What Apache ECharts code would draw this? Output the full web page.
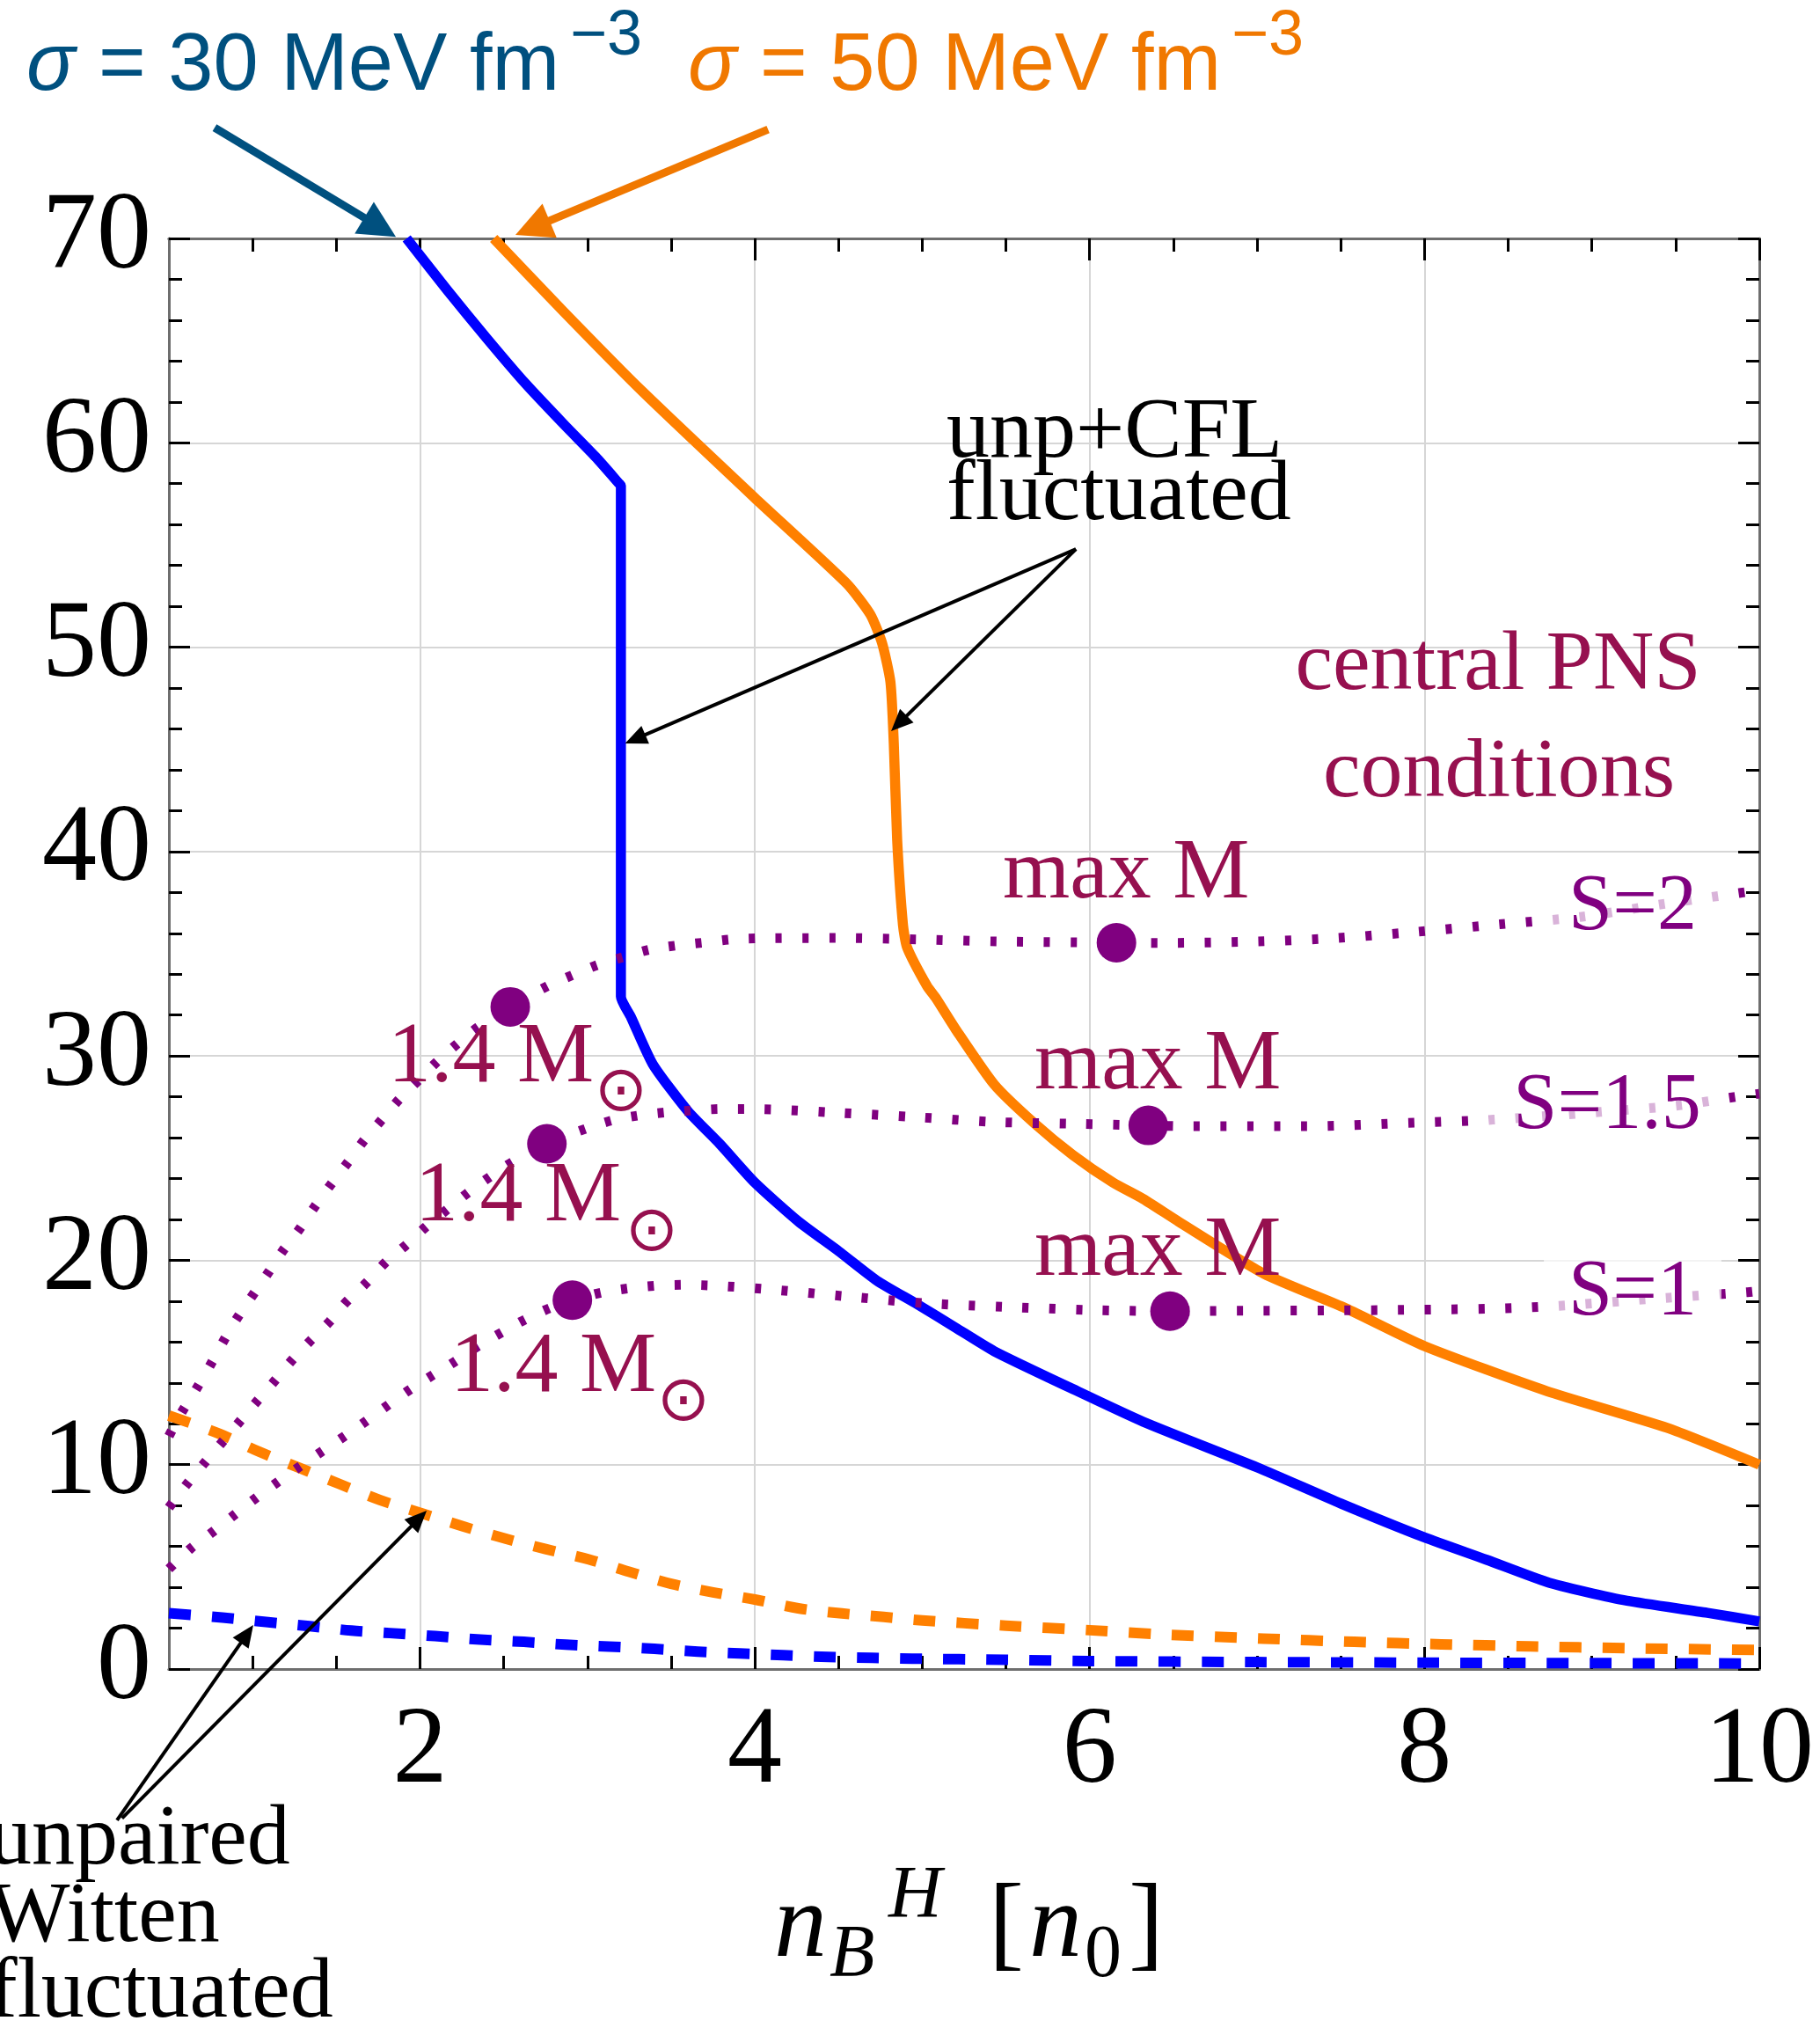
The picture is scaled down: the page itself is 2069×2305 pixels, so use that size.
<!DOCTYPE html>
<html><head><meta charset="utf-8">
<script src="https://cdn.jsdelivr.net/npm/echarts@6/dist/echarts.min.js"></script>
<style>html,body{margin:0;padding:0;background:#fff}#c{width:2069px;height:2305px}</style>
</head><body><div id="c"></div>
<script>
// ---------------- data ----------------
const xMajorTicks = [2, 4, 6, 8, 10];
const xMinorTicks = [1, 1.5, 2.5, 3, 3.5, 4.5, 5, 5.5, 6.5, 7, 7.5, 8.5, 9, 9.5];

// unp+CFL fluctuated, sigma = 30
const blueSolid = [[1.92,70],[2.16,67.5],[2.4,65.1],[2.63,62.9],[2.86,60.9],[3.05,59.3],[3.19,58.0],[3.2,57.9],
  [3.2,32.9],[3.26,31.9],[3.39,29.6],[3.6,27.3],[3.79,25.7],[4.0,23.8],[4.26,21.9],[4.5,20.45],[4.73,19.0],
  [4.97,17.85],[5.2,16.7],[5.43,15.55],[5.9,13.7],[6.32,12.1],[7.0,9.87],[7.5,8.1],[8.0,6.44],[8.37,5.35],
  [8.73,4.26],[8.97,3.76],[9.21,3.34],[9.69,2.75],[10.0,2.33]];
// unp+CFL fluctuated, sigma = 50
const orangeSolid = [[2.44,70],[2.86,66.4],[3.33,62.5],[4.0,57.3],[4.55,53.1],[4.69,51.6],[4.76,50.2],
  [4.81,48.3],[4.83,45.3],[4.85,40.6],[4.885,36.4],[4.91,35.3],[5.03,33.4],[5.08,32.85],[5.2,31.3],[5.43,28.6],
  [5.67,26.7],[5.9,25.15],[6.14,23.8],[6.32,23.0],[6.53,21.9],[7.04,19.35],[7.53,17.65],[8.0,15.8],[8.73,13.6],
  [9.45,11.8],[10.0,10.0]];
// unpaired Witten fluctuated, sigma = 50
const orangeDashed = [[0.5,12.4],[0.805,11.5],[1.04,10.63],[1.28,9.84],[1.52,9.05],[1.76,8.27],[2.01,7.62],
  [2.26,6.97],[2.51,6.38],[2.75,5.87],[3.01,5.36],[3.25,4.76],[3.5,4.17],[3.75,3.75],[4.0,3.4],[4.26,2.97],
  [4.52,2.72],[4.77,2.55],[5.0,2.38],[5.5,2.12],[6.0,1.9],[6.39,1.71],[7.04,1.49],[7.58,1.33],[8.1,1.21],
  [8.63,1.11],[9.21,1.02],[10.0,0.93]];
// unpaired Witten fluctuated, sigma = 30
const blueDashed = [[0.5,2.73],[0.82,2.52],[1.08,2.3],[1.34,2.1],[1.59,1.88],[1.82,1.76],[2.09,1.61],[2.36,1.44],
  [2.62,1.33],[2.87,1.19],[3.13,1.1],[3.4,0.99],[3.66,0.85],[3.91,0.76],[4.17,0.68],[4.44,0.59],[4.7,0.55],
  [4.94,0.51],[5.5,0.45],[6.0,0.39],[7.0,0.34],[8.0,0.31],[9.0,0.29],[10.0,0.27]];
// central PNS conditions
const s2 = [[0.5,11.4],[0.577,12.57],[0.665,13.72],[0.752,14.94],[0.83,16.1],[0.91,17.2],[1.094,19.4],[1.18,20.46],
  [1.278,21.5],[1.369,22.6],[1.467,23.7],[1.567,24.77],[1.663,25.84],[1.768,26.85],[1.873,27.85],[1.987,28.78],
  [2.10,29.7],[2.224,30.6],[2.346,31.4],[2.539,32.4],[2.758,33.4],[2.91,33.95],[3.06,34.45],[3.2,34.8],[3.37,35.2],
  [3.53,35.4],[3.70,35.55],[3.86,35.7],[4.03,35.76],[4.5,35.77],[4.97,35.7],[5.46,35.6],[6.16,35.54],[6.44,35.53],
  [7.0,35.6],[7.48,35.77],[7.95,36.07],[8.45,36.44],[8.93,36.8],[9.40,37.4],[9.88,37.97],[10,38.1]];
const s15 = [[0.5,7.9],[0.603,9.0],[0.709,10.05],[0.814,11.06],[0.919,12.07],[1.024,13.08],[1.13,14.08],[1.234,15.1],
  [1.347,16.08],[1.46,17.0],[1.558,17.95],[1.68,18.9],[1.794,19.9],[1.917,20.75],[2.03,21.6],[2.16,22.47],
  [2.285,23.3],[2.42,24.1],[2.55,24.8],[2.758,25.7],[2.994,26.45],[3.15,26.85],[3.3,27.08],[3.46,27.23],
  [3.63,27.33],[3.8,27.4],[3.97,27.4],[4.47,27.23],[4.97,27.0],[5.43,26.77],[5.9,26.68],[6.35,26.6],[6.6,26.56],
  [7.29,26.56],[7.94,26.73],[8.41,26.88],[9.05,27.26],[9.53,27.59],[9.86,28.0],[10,28.15]];
const s1 = [[0.5,4.9],[0.63,5.9],[0.76,6.7],[0.892,7.55],[1.015,8.34],[1.146,9.13],[1.28,9.9],[1.41,10.63],
  [1.55,11.4],[1.672,12.1],[1.812,12.93],[1.934,13.64],[2.08,14.4],[2.2,15.0],[2.346,15.8],[2.495,16.5],
  [2.627,17.1],[2.775,17.66],[2.91,18.05],[3.09,18.43],[3.25,18.63],[3.42,18.76],[3.57,18.8],[3.73,18.77],
  [4.05,18.6],[4.54,18.24],[5.02,17.9],[5.5,17.72],[6.0,17.57],[6.48,17.51],[6.6,17.52],[7.84,17.57],
  [8.64,17.7],[9.44,18.16],[9.93,18.44],[10,18.5]];
// 1.4 Msun and max M points
const starPoints = [[2.539,32.4],[6.16,35.54],[2.758,25.7],[6.35,26.6],[2.91,18.05],[6.48,17.51]];

// annotation arrows (data coordinates: [from, to])
const arrowsTop = [
  {from:[0.773,75.42], to:[1.856,70.08], color:'#00507F'},
  {from:[4.079,75.33], to:[2.570,70.17], color:'#F07800'}
];
const arrowsBlack = [
  {from:[5.918,54.80], to:[3.225,45.29]},
  {from:[5.918,54.80], to:[4.814,45.89]},
  {from:[0.19,-7.40], to:[1.004,2.15]},
  {from:[0.22,-7.30], to:[2.040,7.75]}
];

// ---------------- chart ----------------
const chart = echarts.init(document.getElementById('c'), null, {renderer:'canvas'});
const axisLineStyle = {color:'#6e6e6e', width:3};
const tickStyle = {color:'#000', width:3};
const gridLine = {color:'#d6d6d6', width:2};
const serif = 'Liberation Serif';

function xAx(pos, major, labels) {
  return {
    type:'value', min:0.5, max:10, position:pos,
    axisLine:{show:true, onZero:false, lineStyle:axisLineStyle},
    axisTick:{show:true, inside:true, length: major ? 25 : 15, lineStyle:tickStyle,
              customValues: major ? xMajorTicks : xMinorTicks},
    axisLabel: labels ? {show:true, customValues:xMajorTicks, margin:33, fontFamily:serif, fontSize:124, color:'#000'} : {show:false},
    splitLine: (major && labels) ? {show:true, lineStyle:gridLine} : {show:false}
  };
}
function yAx(pos, labels) {
  return {
    type:'value', min:0, max:70, interval:10, position:pos,
    axisLine:{show:true, onZero:false, lineStyle:axisLineStyle},
    axisTick:{show:true, inside:true, length:24, lineStyle:tickStyle},
    minorTick:{show:true, splitNumber:5, length:15, lineStyle:tickStyle},
    axisLabel: labels ? {show:true, margin:20, fontFamily:serif, fontSize:124, color:'#000', showMinLabel:true, showMaxLabel:true} : {show:false},
    splitLine: labels ? {show:true, lineStyle:gridLine} : {show:false}
  };
}

function lineSeries(name, data, color, width, type, z, smooth, cap) {
  return {name, type:'line', data, xAxisIndex:0, yAxisIndex:0, showSymbol:false, symbol:'none',
    smooth: smooth, clip:true, z, lineStyle:{color, width, type, cap: cap || 'butt', join:'round'}, silent:true};
}

const option = {
  animation:false,
  backgroundColor:'#ffffff',
  grid:{left:192, right:69, top:271, bottom:408, containLabel:false},
  xAxis:[xAx('bottom', true, true), xAx('bottom', false, false), xAx('top', true, false), xAx('top', false, false)],
  yAxis:[yAx('left', true), yAx('right', false)],
  series:[
    lineSeries('unp+CFL σ=30', blueSolid, '#0000FF', 11.5, 'solid', 2, 0.2, 'butt'),
    lineSeries('unp+CFL σ=50', orangeSolid, '#FF8000', 11.5, 'solid', 2, 0.2, 'butt'),
    lineSeries('Witten σ=50', orangeDashed, '#FF8000', 12, [25, 24], 2, 0.3),
    lineSeries('Witten σ=30', blueDashed, '#0000FF', 12, [25, 24], 2, 0.3),
    lineSeries('S=2', s2, '#800080', 11, [7, 23.5], 3, 0.3),
    lineSeries('S=1.5', s15, '#800080', 11, [7, 23.5], 3, 0.3),
    lineSeries('S=1', s1, '#800080', 11, [7, 23.5], 3, 0.3),
    {type:'scatter', data:starPoints, symbol:'circle', symbolSize:45, itemStyle:{color:'#800080', opacity:1}, z:4, silent:true}
  ]
};
chart.setOption(option);

// ---------------- annotations ----------------
const toPx = p => chart.convertToPixel({gridIndex:0}, p);
const gfx = [];
function arrow(p0, p1, color, w, headLen, headW) {
  const dx = p1[0]-p0[0], dy = p1[1]-p0[1], L = Math.hypot(dx, dy), ux = dx/L, uy = dy/L;
  const bx = p1[0]-ux*headLen, by = p1[1]-uy*headLen, nx = -uy, ny = ux;
  gfx.push({type:'line', z:60, shape:{x1:p0[0], y1:p0[1], x2:bx+ux*2, y2:by+uy*2}, style:{stroke:color, lineWidth:w}});
  gfx.push({type:'polygon', z:61, shape:{points:[[p1[0],p1[1]],[bx+nx*headW/2, by+ny*headW/2],[bx-nx*headW/2, by-ny*headW/2]]}, style:{fill:color}});
}
arrowsTop.forEach(a => arrow(toPx(a.from), toPx(a.to), a.color, 9, 42, 42));
arrowsBlack.forEach(a => arrow(toPx(a.from), toPx(a.to), '#000', 4, 25, 22));

const K = 0.34; // alphabetic baseline -> middle offset (fraction of font size)
function txt(text, x, base, size, color, family, opts) {
  opts = opts || {};
  const st = {text, x, y: base - K*size, fill:color, fontSize:size, fontFamily:family,
    fontStyle: opts.italic ? 'italic' : 'normal', align: opts.align || 'left', verticalAlign:'middle'};
  if (opts.bg) { st.backgroundColor = opts.bg; st.padding = [0, 28]; }
  gfx.push({type:'text', z: opts.z || 70, style: st});
}
const sans = 'Liberation Sans';
const cBlue = '#00507F', cOr = '#F07800', cRed = '#96104F', cPur = '#800080';
// top titles
txt('σ', 30, 108, 92, cBlue, sans, {italic:true});
txt('= 30 MeV fm', 112, 108, 92, cBlue, sans);
txt('−3', 648, 67, 72, cBlue, sans);
txt('σ', 782, 108, 92, cOr, sans, {italic:true});
txt('= 50 MeV fm', 864, 108, 92, cOr, sans);
txt('−3', 1400, 67, 72, cOr, sans);
// in-plot labels
txt('unp+CFL', 1076, 527, 98, '#000', serif);
txt('fluctuated', 1076, 598, 98, '#000', serif);
txt('central PNS', 1703, 790, 96, cRed, serif, {align:'center'});
txt('conditions', 1704, 912, 96, cRed, serif, {align:'center'});
txt('max M', 1140, 1028, 98, cRed, serif);
txt('max M', 1176, 1245, 98, cRed, serif);
txt('max M', 1176, 1457, 98, cRed, serif);
txt('1.4 M', 441, 1237, 98, cRed, serif);
txt('1.4 M', 472, 1395, 98, cRed, serif);
txt('1.4 M', 512, 1589, 98, cRed, serif);
[[706,1243],[741,1402],[777,1595]].forEach(p => {
  gfx.push({type:'text', z:70, style:{text:'⊙', x:p[0], y:p[1], fill:cRed, fontSize:72, fontFamily:'DejaVu Sans', align:'center', verticalAlign:'middle'}});
});
txt('S=2', 1856, 1063, 90, cPur, serif, {align:'center', bg:'rgba(255,255,255,0.7)', z:65});
txt('S=1.5', 1827, 1289, 90, cPur, serif, {align:'center', bg:'rgba(255,255,255,0.7)', z:65});
txt('S=1', 1856, 1501, 90, cPur, serif, {align:'center', bg:'rgba(255,255,255,0.7)', z:65});
// bottom-left label
txt('unpaired', -13, 2126, 98, '#000', serif);
txt('Witten', -13, 2214, 98, '#000', serif);
txt('fluctuated', -13, 2300, 98, '#000', serif);
// axis name  n_B^H [n_0]
txt('n', 880, 2232, 120, '#000', serif, {italic:true});
txt('B', 943, 2252, 84, '#000', serif, {italic:true});
txt('H', 1010, 2185, 84, '#000', serif, {italic:true});
txt('[', 1124, 2233, 120, '#000', serif);
txt('n', 1170, 2232, 120, '#000', serif, {italic:true});
txt('0', 1233, 2252, 84, '#000', serif);
txt(']', 1283, 2233, 120, '#000', serif);

chart.setOption({graphic:{elements:gfx}});
</script>
</body></html>
